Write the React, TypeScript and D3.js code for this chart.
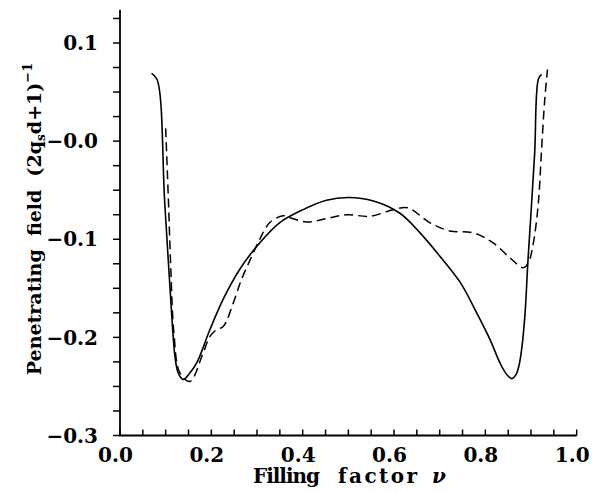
import React from "react";
import * as d3 from "d3";

const solidX = [0.069, 0.081, 0.098, 0.115, 0.121, 0.128, 0.139, 0.150, 0.168, 0.197, 0.226, 0.263, 0.306, 0.350, 0.401, 0.452, 0.500, 0.555, 0.613, 0.657, 0.700, 0.745, 0.781, 0.810, 0.832, 0.847, 0.858, 0.867, 0.874, 0.880, 0.887, 0.893, 0.900, 0.908, 0.916, 0.923];
const solidY = [0.069, 0.063, -0.063, -0.190, -0.222, -0.237, -0.243, -0.238, -0.226, -0.192, -0.161, -0.130, -0.1037, -0.083, -0.0698, -0.0603, -0.0575, -0.061, -0.0735, -0.0935, -0.117, -0.144, -0.175, -0.202, -0.226, -0.238, -0.242, -0.238, -0.228, -0.210, -0.175, -0.124, -0.073, -0.012, 0.063, 0.068];

const dashX = [0.100, 0.106, 0.111, 0.118, 0.131, 0.153, 0.182, 0.197, 0.212, 0.226, 0.248, 0.266, 0.285, 0.306, 0.328, 0.357, 0.372, 0.409, 0.452, 0.496, 0.547, 0.598, 0.630, 0.678, 0.722, 0.774, 0.817, 0.854, 0.883, 0.894, 0.905, 0.916, 0.923, 0.930, 0.936];
const dashY = [0.013, -0.060, -0.127, -0.195, -0.236, -0.245, -0.216, -0.199, -0.192, -0.189, -0.165, -0.141, -0.121, -0.100, -0.083, -0.076, -0.078, -0.0825, -0.079, -0.075, -0.0766, -0.070, -0.068, -0.083, -0.0915, -0.0935, -0.1037, -0.119, -0.129, -0.124, -0.104, -0.063, -0.009, 0.042, 0.073];

const xMajor = [0, 0.2, 0.4, 0.6, 0.8, 1.0];
const xLabels = ["0.0", "0.2", "0.4", "0.6", "0.8", "1.0"];
const yMajor = [0.1, 0.0, -0.1, -0.2, -0.3];
const yLabels = ["0.1", "\u22120.0", "\u22120.1", "\u22120.2", "\u22120.3"];
const xTitleWords = ["Filling", "factor", "\u03bd"];
const xTitleStarts = [253, 338, 432];
const xTitleWidths = [67, 79, 16];

const FONT = "'DejaVu Serif', serif";

export default function App() {
  const x = d3.scaleLinear().domain([0, 1]).range([120, 576.7]);
  const y = d3.scaleLinear().domain([-0.3, 0.1]).range([435.5, 43]);
  const line = d3
    .line<[number, number]>()
    .x((d) => x(d[0]))
    .y((d) => y(d[1]))
    .curve(d3.curveCatmullRom.alpha(0.5));
  const solid = solidX.map((v, i) => [v, solidY[i]] as [number, number]);
  const dashed = dashX.map((v, i) => [v, dashY[i]] as [number, number]);
  const xMinor = d3.range(0, 21).map((i) => i * 0.05);
  const yMinor = d3.range(0, 18).map((i) => -0.3 + i * 0.025);
  const y0 = y(-0.3);

  return (
    <div style={{ position: "absolute", left: 0, top: 0 }}>
      <svg width={603} height={493} style={{ display: "block", background: "#fff" }}>
        <line x1={x(0)} x2={x(0)} y1={y(0.134)} y2={y0} stroke="#000" strokeWidth={1.8} />
        <line x1={x(0) - 1} x2={x(1)} y1={y0} y2={y0} stroke="#000" strokeWidth={1.8} />
        {yMinor.map((v, i) => (
          <line key={"yt" + i} x1={x(0) - 7} x2={x(0)} y1={y(v)} y2={y(v)} stroke="#000" strokeWidth={1.5} />
        ))}
        {xMinor.map((v, i) => (
          <line key={"xt" + i} x1={x(v)} x2={x(v)} y1={y0} y2={y0 - 6} stroke="#000" strokeWidth={1.5} />
        ))}
        {yMajor.map((v, i) => (
          <text key={"yl" + i} x={98} y={y(v)} dy="0.36em" textAnchor="end" fontFamily={FONT} fontWeight="bold" fontSize={20}>
            {yLabels[i]}
          </text>
        ))}
        {xMajor.map((v, i) => (
          <text key={"xl" + i} x={x(v) - 4.5} y={462} textAnchor="middle" fontFamily={FONT} fontWeight="bold" fontSize={20}>
            {xLabels[i]}
          </text>
        ))}
        {xTitleWords.map((w, i) => (
          <text
            key={w}
            x={xTitleStarts[i]}
            y={483}
            fontFamily={FONT}
            fontWeight="bold"
            fontStyle={i === 2 ? "italic" : "normal"}
            fontSize={20}
            textLength={xTitleWidths[i]}
            lengthAdjust="spacing"
          >
            {w}
          </text>
        ))}
        <text
          transform="translate(41,219) rotate(-90)"
          textAnchor="middle"
          fontFamily={FONT}
          fontWeight="bold"
          fontSize={19}
          style={{ whiteSpace: "pre" }}
        >
          <tspan>{"Penetrating  field  (2q"}</tspan>
          <tspan fontSize={12} dy={4}>s</tspan>
          <tspan dy={-4}>{"d+1)"}</tspan>
          <tspan fontSize={13} dy={-9}>{"\u22121"}</tspan>
        </text>
        <path d={line(solid) || ""} fill="none" stroke="#000" strokeWidth={1.6} />
        <path d={line(dashed) || ""} fill="none" stroke="#000" strokeWidth={1.5} strokeDasharray="9,5" />
      </svg>
    </div>
  );
}
